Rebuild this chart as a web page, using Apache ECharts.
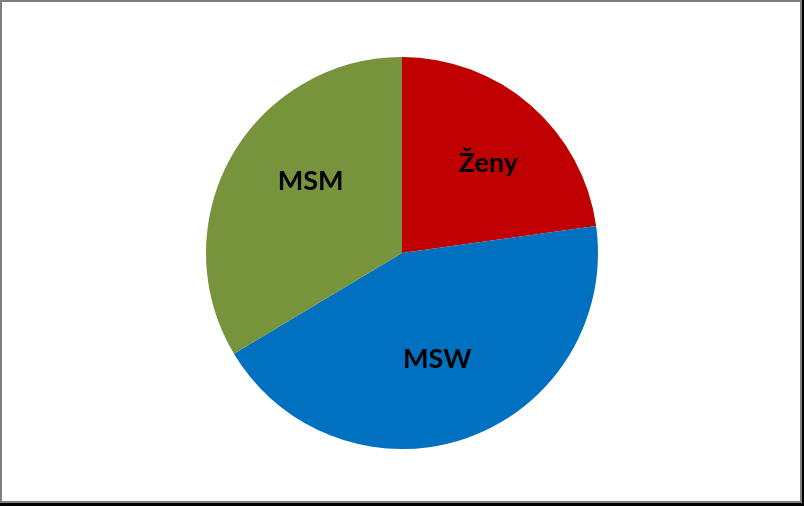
<!DOCTYPE html>
<html>
<head>
<meta charset="utf-8">
<script src="https://cdn.jsdelivr.net/npm/echarts@6/dist/echarts.min.js"></script>
<style>
html,body{margin:0;padding:0;background:#000;}
#frame{position:absolute;left:0;top:0;width:798px;height:499px;border:2px solid #7f7f7f;background:#fff;}
#chart{width:798px;height:499px;}
</style>
</head>
<body>
<div id="frame"><div id="chart"></div></div>
<script>
const categories = ['Ženy', 'MSW', 'MSM'];
const values = [22.8, 43.6, 33.6];
const colors = ['#C00000', '#0070C0', '#77933C'];

const chart = echarts.init(document.getElementById('chart'), null, {renderer: 'canvas'});
const data = categories.map((c, i) => ({name: c, value: values[i], itemStyle: {color: colors[i]}}));
// label nudges (style only), Excel-like placement
const labelStyle = {
  'Ženy': {offset: [7, 2]},
  'MSW': {offset: [-5, -8]},
  'MSM': {offset: [14, -12]}
};
chart.setOption({
  animation: false,
  series: [
    {
      type: 'pie',
      center: [400, 251],
      radius: [0, 196],
      startAngle: 90,
      clockwise: true,
      label: {show: false},
      labelLine: {show: false},
      itemStyle: {borderWidth: 0},
      data: data
    },
    {
      type: 'pie',
      center: [400, 251],
      radius: [40, 196],
      startAngle: 90,
      clockwise: true,
      silent: true,
      itemStyle: {color: 'transparent', borderWidth: 0},
      label: {show: true, position: 'inside', formatter: '{b}', color: '#000', fontFamily: 'Lato', fontWeight: 'bold', fontSize: 27},
      labelLine: {show: false},
      data: categories.map((c, i) => ({name: c, value: values[i], label: labelStyle[c]}))
    }
  ]
});
</script>
</body>
</html>
